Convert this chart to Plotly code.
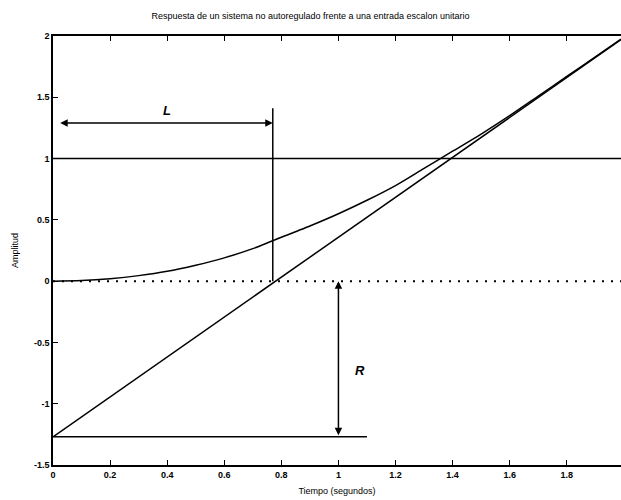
import plotly.graph_objects as go

# Respuesta
t_resp = [0, 0.1, 0.2, 0.3, 0.4, 0.5, 0.6, 0.7, 0.77, 0.9, 1.0, 1.1, 1.2, 1.3, 1.4, 1.5, 1.6, 1.7, 1.8, 1.9, 1.99]
y_resp = [0, 0.005, 0.02, 0.045, 0.08, 0.13, 0.19, 0.265, 0.33, 0.45, 0.55, 0.66, 0.78, 0.92, 1.06, 1.2, 1.35, 1.51, 1.67, 1.83, 1.975]

# Recta tangente (asíntota)
t_ramp = [0, 1.99]
y_ramp = [-1.27, 1.97]

# Referencias
t_unit = [0, 1.99]
y_unit = [1, 1]
t_zero = [0, 1.99]
y_zero = [0, 0]
t_base = [0, 1.1]
y_base = [-1.27, -1.27]

L_val = 0.77
L_top = 1.41
L_arrow_y = 1.29
R_x = 1.0
R_val = -1.27

xtick_vals = [0, 0.2, 0.4, 0.6, 0.8, 1, 1.2, 1.4, 1.6, 1.8]
xtick_text = ["0", "0.2", "0.4", "0.6", "0.8", "1", "1.2", "1.4", "1.6", "1.8"]
ytick_vals = [2, 1.5, 1, 0.5, 0, -0.5, -1, -1.5]
ytick_text = ["2", "1.5", "1", "0.5", "0", "-0.5", "-1", "-1.5"]

title_text = "Respuesta de un sistema no autoregulado frente a una entrada escalon unitario"

lc = "black"
lw = 1.5

fig = go.Figure()
fig.add_trace(go.Scatter(x=t_resp, y=y_resp, mode="lines", line=dict(color=lc, width=lw, smoothing=0.8), line_shape="spline"))
fig.add_trace(go.Scatter(x=t_ramp, y=y_ramp, mode="lines", line=dict(color=lc, width=lw)))
fig.add_trace(go.Scatter(x=t_unit, y=y_unit, mode="lines", line=dict(color=lc, width=lw)))
fig.add_trace(go.Scatter(x=t_zero, y=y_zero, mode="lines", line=dict(color=lc, width=2, dash="2px,7px")))
fig.add_trace(go.Scatter(x=t_base, y=y_base, mode="lines", line=dict(color=lc, width=lw)))
# Vertical line at L
fig.add_trace(go.Scatter(x=[L_val, L_val], y=[0, L_top], mode="lines", line=dict(color=lc, width=lw)))

# L arrow (double headed)
fig.add_annotation(x=L_val, y=L_arrow_y, ax=0.02, ay=L_arrow_y, xref="x", yref="y", axref="x", ayref="y",
                   showarrow=True, arrowhead=2, startarrowhead=2, arrowside="end+start",
                   arrowsize=1, arrowwidth=1.5, arrowcolor=lc, text="")
# R arrow
fig.add_annotation(x=R_x, y=0, ax=R_x, ay=R_val, xref="x", yref="y", axref="x", ayref="y",
                   showarrow=True, arrowhead=2, startarrowhead=2, arrowside="end+start",
                   arrowsize=1, arrowwidth=1.5, arrowcolor=lc, text="")

fig.add_annotation(x=L_val / 2 + 0.015, y=1.39, text="<b><i>L</i></b>", showarrow=False,
                   font=dict(family="Liberation Sans, Arial", size=13, color=lc))
fig.add_annotation(x=R_x + 0.075, y=-0.73, text="<b><i>R</i></b>", showarrow=False,
                   font=dict(family="Liberation Sans, Arial", size=13, color=lc))

tf = dict(family="Liberation Sans, Arial", size=9, color="black", weight="bold")

fig.update_layout(
    width=621, height=500,
    margin=dict(l=53, r=0, t=36, b=35),
    paper_bgcolor="white", plot_bgcolor="white",
    showlegend=False,
    font=dict(family="Liberation Sans, Arial", size=9, color="black"),
    title=dict(text=title_text, x=0.5, xanchor="center", y=0.968, yanchor="middle",
               font=dict(size=9, color="black")),
)
fig.update_xaxes(range=[0, 1.99], tickvals=xtick_vals, ticktext=xtick_text, tickfont=tf,
                 ticks="inside", ticklen=5, tickcolor=lc, tickwidth=1,
                 showline=True, linecolor=lc, linewidth=1.5, mirror="ticks",
                 showgrid=False, zeroline=False,
                 title=dict(text="Tiempo (segundos)", standoff=9, font=dict(size=9)))
fig.update_yaxes(range=[-1.5, 2], tickvals=ytick_vals, ticktext=ytick_text, tickfont=tf,
                 ticks="inside", ticklen=5, tickcolor=lc, tickwidth=1,
                 showline=True, linecolor=lc, linewidth=1.5, mirror=False,
                 showgrid=False, zeroline=False,
                 title=dict(text="Amplitud", standoff=14, font=dict(size=9)))

fig.write_html("out.html")
